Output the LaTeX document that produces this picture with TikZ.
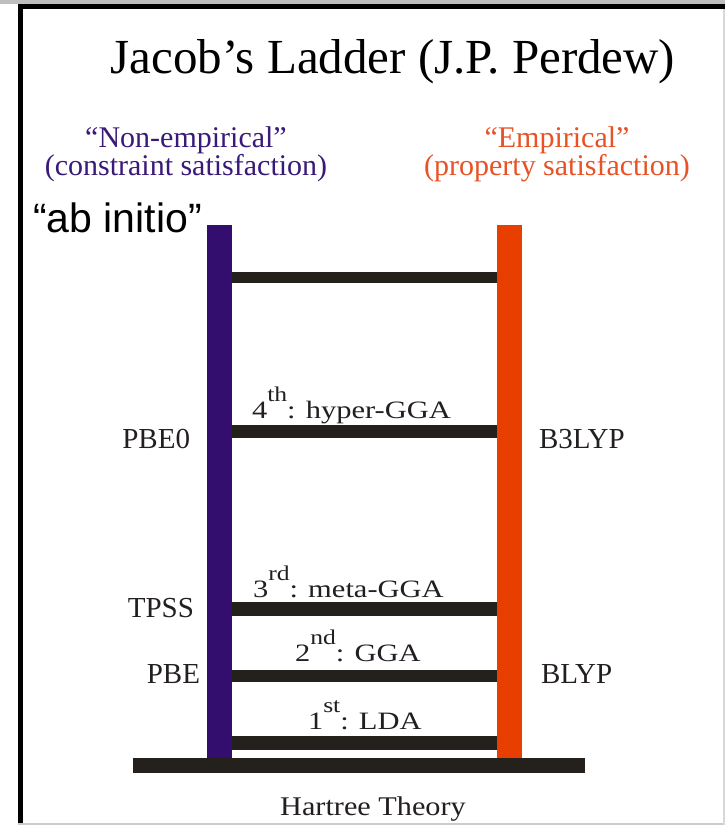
\documentclass[tikz,border=0pt]{standalone}
\usepackage{fontspec}
\setmainfont{Liberation Serif}
\newfontfamily\abfont{Liberation Sans}
\newfontfamily\rungfont[FakeStretch=1.22]{Liberation Serif}
\newfontfamily\hartfont[FakeStretch=1.12]{Liberation Serif}
\definecolor{railpurple}{RGB}{52,14,110}
\definecolor{railorange}{RGB}{232,62,0}
\definecolor{txtpurple}{RGB}{58,26,120}
\definecolor{txtorange}{RGB}{232,82,36}
\definecolor{rungdark}{RGB}{36,32,28}
\definecolor{txtdark}{RGB}{35,31,32}
\definecolor{framegrey}{RGB}{190,190,190}
\newcommand\rsup[1]{\raisebox{17pt}{\fontsize{21}{21}\selectfont #1}}
\begin{document}
\begin{tikzpicture}[x=1pt,y=-1pt,
  txt/.style={inner sep=0pt, outer sep=0pt, text=txtdark},
  rungbar/.style={fill=rungdark},
  sidelbl/.style={txt, font=\fontsize{29}{29}\selectfont},
  runglbl/.style={txt, anchor=base west, font=\rungfont\fontsize{25}{25}\selectfont},
  hdr/.style={inner sep=0pt, outer sep=0pt, anchor=north, align=center, font=\fontsize{30}{27}\selectfont}]
\useasboundingbox (0,0) rectangle (725,825);
\fill[white] (0,0) rectangle (725,825);
% frame
\fill[framegrey] (0,0) rectangle (725,4);
\fill[black] (18,4) rectangle (725,9);
\fill[black] (18,4) rectangle (23,825);
\fill[framegrey!80] (18,822.5) rectangle (725,825);
\fill[framegrey!60] (723,9) rectangle (725,825);
% title
\node[inner sep=0pt, anchor=base, text=black, font=\fontsize{49}{49}\selectfont] (title) at (393,73) {Jacob’s Ladder (J.P. Perdew)};
% headers
\node[hdr, text=txtpurple] (nonemp) at (186,126.5) {“Non-empirical”\\(constraint satisfaction)};
\node[hdr, text=txtorange] (emp) at (557,126.5) {“Empirical”\\(property satisfaction)};
% ab initio
\node[inner sep=0pt, anchor=base west, text=black, font=\abfont\fontsize{41}{41}\selectfont] (abinitio) at (33,232) {“ab initio”};
% rails
\fill[railpurple] (207,225) rectangle (232,758);
\fill[railorange] (497,225) rectangle (522,758);
% rungs
\fill[rungbar] (232,272) rectangle (497,283);
\fill[rungbar] (232,425) rectangle (497,438);
\fill[rungbar] (232,602) rectangle (497,616);
\fill[rungbar] (232,670) rectangle (497,682);
\fill[rungbar] (232,736) rectangle (497,750);
% base
\fill[rungbar] (133,758) rectangle (585,773);
% rung labels
\node[runglbl] (r4) at (252,418) {4\rsup{th}: hyper-GGA};
\node[runglbl] (r3) at (253,597) {3\rsup{rd}: meta-GGA};
\node[runglbl] (r2) at (295,661) {2\rsup{nd}: GGA};
\node[runglbl] (r1) at (308,729) {1\rsup{st}: LDA};
% side labels
\node[sidelbl, anchor=base east] (pbe0) at (190,448) {PBE0};
\node[sidelbl, anchor=base east] (tpss) at (194,617) {TPSS};
\node[sidelbl, anchor=base east] (pbe) at (200,683) {PBE};
\node[sidelbl, anchor=base west] (b3lyp) at (539,448) {B3LYP};
\node[sidelbl, anchor=base west] (blyp) at (541,683) {BLYP};
% Hartree
\node[txt, anchor=base, font=\hartfont\fontsize{27}{27}\selectfont] (hartree) at (373,815) {Hartree Theory};
\end{tikzpicture}
\end{document}
